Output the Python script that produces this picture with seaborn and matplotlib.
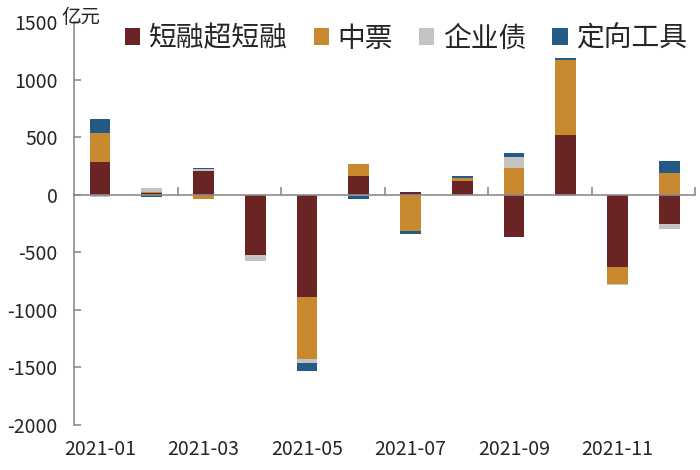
import matplotlib
matplotlib.use("Agg")
import matplotlib.pyplot as plt
import seaborn as sns
import numpy as np

# 月度净融资(亿元)
meses = ["2021-01", "2021-02", "2021-03", "2021-04", "2021-05", "2021-06",
         "2021-07", "2021-08", "2021-09", "2021-10", "2021-11", "2021-12"]
duanrong = [280, 15, 210, -520, -890, 165, 20, 118, -370, 520, -630, -252]
zhongpiao = [260, 10, -35, 0, -535, 102, -312, 26, 235, 648, -145, 188]
qiyezhai = [-20, 30, 10, -60, -35, -10, 0, 0, 92, -15, -10, -47]
dingxiang = [122, -20, 15, 0, -72, -25, -28, 15, 38, 20, 0, 102]

series = [("短融超短融", duanrong, "#6B2424"),
          ("中票", zhongpiao, "#C8892F"),
          ("企业债", qiyezhai, "#C3C3C3"),
          ("定向工具", dingxiang, "#235A87")]

sns.set_theme(style="white")
plt.rcParams["font.family"] = ["Noto Sans CJK SC", "DejaVu Sans"]
plt.rcParams["axes.unicode_minus"] = False

fig, ax = plt.subplots(figsize=(7, 4.7), dpi=100)
fig.subplots_adjust(left=0.106, right=0.993, top=0.953, bottom=0.096)

x = np.arange(len(meses))
base_pos = np.zeros(len(meses))
base_neg = np.zeros(len(meses))
for nome, valores, cor in series:
    v = np.array(valores, dtype=float)
    bottom = np.where(v >= 0, base_pos, base_neg)
    ax.bar(x, v, width=0.4, bottom=bottom, color=cor, label=nome, linewidth=0)
    base_pos += np.where(v >= 0, v, 0)
    base_neg += np.where(v < 0, v, 0)

cinza = "#8C8C8C"
ax.set_xlim(-0.5, len(meses) - 0.5)
ax.set_ylim(-2000, 1500)
ax.set_yticks(np.arange(-2000, 1501, 500))
ax.spines["top"].set_visible(False)
ax.spines["right"].set_visible(False)
ax.spines["left"].set_color(cinza)
ax.spines["bottom"].set_color(cinza)
ax.spines["bottom"].set_position(("data", 0))
ax.spines["left"].set_linewidth(1.2)
ax.spines["bottom"].set_linewidth(1.2)

ax.set_xticks(np.arange(1.5, len(meses), 2))
ax.tick_params(axis="x", direction="in", length=6, width=1.2, color=cinza,
               labelbottom=False, bottom=True)
ax.tick_params(axis="y", direction="in", length=5, width=1.2, color=cinza,
               labelsize=14, pad=12, left=True)

sec = ax.secondary_xaxis("bottom")
sec.set_xticks(x[::2])
sec.set_xticklabels(meses[::2])
sec.spines["bottom"].set_visible(False)
sec.tick_params(length=0, labelsize=14, pad=10)

ax.text(-0.02, 1.012, "亿元", transform=ax.transAxes, fontsize=14,
        ha="left", va="center")

ax.legend(loc="center", bbox_to_anchor=(0.58, 0.918), bbox_transform=fig.transFigure,
          ncol=4, frameon=False, fontsize=20, handlelength=0.55, handleheight=0.55,
          handletextpad=0.3, columnspacing=0.95, borderaxespad=0)

plt.savefig("out.png", dpi=100)
